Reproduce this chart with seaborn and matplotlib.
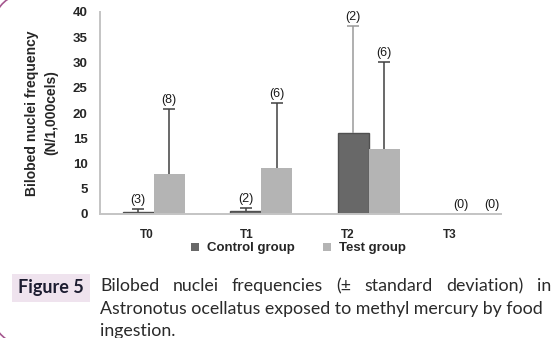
import matplotlib
matplotlib.use("Agg")
import matplotlib.pyplot as plt
import seaborn as sns
import pandas as pd
from matplotlib.patches import Rectangle, Arc

# ---- data ----
times = ["T0", "T1", "T2", "T3"]
control_mean = [0.3, 0.5, 16.0, 0.0]
control_sd = [0.6, 0.7, 21.3, 0.0]
control_n = [3, 2, 2, 0]
test_mean = [7.9, 9.2, 12.9, 0.0]
test_sd = [12.9, 12.8, 17.2, 0.0]
test_n = [8, 6, 6, 0]
groups = ["Control group", "Test group"]
yticks = [0, 5, 10, 15, 20, 25, 30, 35, 40]

df = pd.DataFrame({
    "time": times * 2,
    "group": [groups[0]] * 4 + [groups[1]] * 4,
    "value": control_mean + test_mean,
})

W, H = 557, 338
fig = plt.figure(figsize=(W / 100, H / 100), dpi=100)
sns.set_style("white")
plt.rcParams["font.family"] = ["Liberation Sans", "DejaVu Sans"]

ax = fig.add_axes([100 / W, (H - 214) / H, 401 / W, 202 / H])
colors = {"Control group": "#686868", "Test group": "#b4b4b4"}
sns.barplot(data=df, x="time", y="value", hue="group", order=times,
            hue_order=groups, palette=colors, width=0.577, errorbar=None,
            saturation=1, ax=ax, linewidth=0)

bars_c = ax.containers[0]
bars_t = ax.containers[1]
for p in bars_c:
    p.set_edgecolor("#505050")
    p.set_linewidth(1.0)


def draw(bars, means, sds, ns, ecols):
    for p, m, s, n, ec in zip(bars, means, sds, ns, ecols):
        xc = p.get_x() + p.get_width() / 2
        top = m + s
        if s > 0:
            ax.vlines(xc, m, top, color=ec, linewidth=1.1, zorder=3)
            ax.plot([xc], [top], marker="_", markersize=8, mew=1.1,
                    color=ec, zorder=3)
        ax.annotate(f"({n})", (xc, top), xytext=(0, 6.5),
                    textcoords="offset points", ha="center", va="center",
                    fontsize=9, color="#1a1a1a")


draw(bars_c, control_mean, control_sd, control_n,
     ["#404040", "#404040", "#9a9a9a", "#404040"])
draw(bars_t, test_mean, test_sd, test_n, ["#404040"] * 4)

ax.set_xlim(-0.5, 3.23)
ax.set_ylim(0, 40)
ax.set_yticks(yticks)
ax.set_yticklabels([str(v) for v in yticks], fontsize=9.5, fontweight="bold")
tick_pos = [-0.065, 0.865, 1.805, 2.753]
ax.set_xticks(tick_pos)
ax.set_xticklabels(times, fontsize=8.5, fontweight="bold")
ax.tick_params(axis="both", length=0)
ax.tick_params(axis="y", pad=9)
ax.tick_params(axis="x", pad=11)
ax.set_xlabel("")
ax.set_ylabel("Bilobed nuclei frequency\n(N/1,000cels)", fontsize=10,
              fontweight="bold", labelpad=10, linespacing=1.55)
for s in ["top", "right"]:
    ax.spines[s].set_visible(False)
for s in ["left", "bottom"]:
    ax.spines[s].set_color("#c4c4c4")
    ax.spines[s].set_linewidth(1.4)

sns.move_legend(ax, "center", bbox_to_anchor=(0.495, -0.17), ncol=2,
                frameon=False, title=None, fontsize=9.5, handlelength=0.55,
                handleheight=0.55, handletextpad=0.6, columnspacing=2.2)
for t in ax.get_legend().get_texts():
    t.set_fontweight("bold")


# ---- caption ----
def px(x, y):
    return x / W, 1 - y / H


box = Rectangle(px(12, 302), 78 / W, 28 / H, transform=fig.transFigure,
                facecolor="#efe3ee", edgecolor="none")
fig.add_artist(box)
fig.text(*px(51, 288), "Figure 5", ha="center", va="center", fontsize=13,
         fontweight="bold", color="#1c1c30", family="Lato")

cap_kw = dict(fontsize=12.8, color="#2a2a2a", family="Lato", va="center")
line1 = ["Bilobed", "nuclei", "frequencies", "(±", "standard", "deviation)", "in"]
fig.canvas.draw()
r = fig.canvas.get_renderer()
txts = [fig.text(0, 1 - 286 / H, w, **cap_kw) for w in line1]
widths = [t.get_window_extent(r).width for t in txts]
x0, x1 = 100, 551
gap = (x1 - x0 - sum(widths)) / (len(line1) - 1)
x = x0
for t, w in zip(txts, widths):
    t.set_x(x / W)
    x += w + gap
fig.text(*px(100, 309), "Astronotus ocellatus exposed to methyl mercury by food", **cap_kw)
fig.text(*px(100, 331), "ingestion.", **cap_kw)

# decorative rounded frame corners
fig.add_artist(Arc(px(25, 25), 62 / W, 62 / H, theta1=100, theta2=175,
                   transform=fig.transFigure, color="#a5578f", lw=1.2))
fig.add_artist(Arc(px(25, 312), 66 / W, 66 / H, theta1=185, theta2=260,
                   transform=fig.transFigure, color="#a5578f", lw=1.2))

fig.savefig("out.png", dpi=100)
